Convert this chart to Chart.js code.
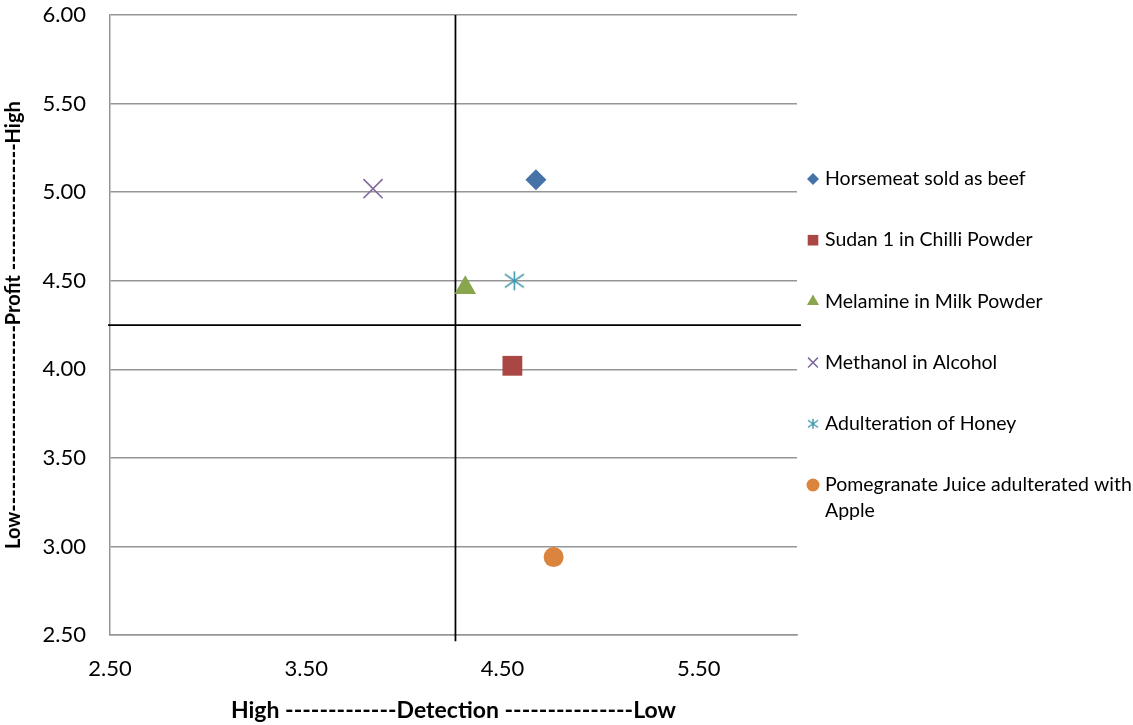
<!DOCTYPE html>
<html>
<head>
<meta charset="utf-8">
<title>Profit vs Detection</title>
<script src="https://cdn.jsdelivr.net/npm/chart.js@4.4.1/dist/chart.umd.min.js"></script>
<style>
  html, body { margin: 0; padding: 0; background: #fff; }
  #wrap { width: 1133px; height: 725px; }
</style>
</head>
<body>
<div id="wrap"><canvas id="chart"></canvas></div>
<script>
// food fraud cases: detection (x) against profit (y)
const caseNames = [
  'Horsemeat sold as beef',
  'Sudan 1 in Chilli Powder',
  'Melamine in Milk Powder',
  'Methanol in Alcohol',
  'Adulteration of Honey',
  'Pomegranate Juice adulterated with Apple'
];
const detection = [4.67, 4.55, 4.31, 3.84, 4.56, 4.76];
const profit = [5.07, 4.02, 4.46, 5.02, 4.50, 2.94];

// quadrant split lines
const detectionSplit = 4.26;
const profitSplit = 4.25;

const xTicks = [2.5, 3.5, 4.5, 5.5];
const yTicks = [2.5, 3.0, 3.5, 4.0, 4.5, 5.0, 5.5, 6.0];

const xTitle = 'High -------------Detection ---------------Low';
const yTitle = 'Low-------------------------Profit -----------------High';

const colors = ['#4572A7', '#AA4643', '#89A54E', '#80699B', '#3D96AE', '#DB843D'];

// excel style asterisk marker (vertical bar + x)
function asterisk(size, color, lw) {
  const c = document.createElement('canvas');
  c.width = c.height = size;
  const g = c.getContext('2d');
  const m = size / 2, r = size / 2 - 1;
  g.strokeStyle = color;
  g.lineWidth = lw;
  g.beginPath();
  g.moveTo(m, m - r); g.lineTo(m, m + r);
  g.moveTo(m - r, m - r * 0.7); g.lineTo(m + r, m + r * 0.7);
  g.moveTo(m + r, m - r * 0.7); g.lineTo(m - r, m + r * 0.7);
  g.stroke();
  return c;
}

const markerStyles = ['rectRot', 'rect', 'triangle', 'crossRot', asterisk(21, colors[4], 1.6), 'circle'];
const markerRadius = [10.5, 14, 12.5, 13.5, 10, 10];
const legendStyles = ['rectRot', 'rect', 'triangle', 'crossRot', asterisk(12, colors[4], 1.4), 'circle'];
const legendRadius = [6, 7.5, 7, 7, 6, 6.5];

// legend drawn at the right, with wrapping like excel
const sideLegend = {
  id: 'sideLegend',
  afterDraw(chart, args, opts) {
    const ctx = chart.ctx;
    ctx.save();
    ctx.font = opts.font;
    ctx.textBaseline = 'middle';
    ctx.textAlign = 'left';
    const textX = opts.x + opts.gap;
    const maxW = chart.width - textX + 2;
    caseNames.forEach((name, i) => {
      const y = opts.top + i * opts.step;
      ctx.fillStyle = colors[i];
      ctx.strokeStyle = colors[i];
      ctx.lineWidth = 1.5;
      Chart.helpers.drawPoint(ctx, {pointStyle: legendStyles[i], radius: legendRadius[i], borderWidth: legendStyles[i] === 'crossRot' ? 1.5 : 0}, opts.x, y);
      // simple word wrap
      const lines = [];
      let cur = '';
      name.split(' ').forEach(w => {
        const test = cur ? cur + ' ' + w : w;
        if (cur && ctx.measureText(test).width > maxW) { lines.push(cur); cur = w; } else { cur = test; }
      });
      lines.push(cur);
      ctx.fillStyle = '#000';
      lines.forEach((l, k) => ctx.fillText(l, textX, y + k * opts.lineHeight));
    });
    ctx.restore();
  }
};

const caseSets = caseNames.map((name, i) => ({
  label: name,
  data: [{x: detection[i], y: profit[i]}],
  backgroundColor: colors[i],
  borderColor: colors[i],
  borderWidth: markerStyles[i] === 'crossRot' ? 1.6 : 0,
  pointStyle: markerStyles[i],
  pointRadius: markerRadius[i],
  pointHoverRadius: markerRadius[i],
  order: 0
}));

const splitLine = (pts) => ({
  label: '',
  data: pts,
  showLine: true,
  borderColor: '#000',
  borderWidth: 1.75,
  pointRadius: 0,
  pointHoverRadius: 0,
  clip: false,
  order: 5
});

new Chart(document.getElementById('chart'), {
  type: 'scatter',
  data: {
    datasets: [
      ...caseSets,
      splitLine([{x: detectionSplit, y: 2.465}, {x: detectionSplit, y: 6.0}]),
      splitLine([{x: 2.49, y: profitSplit}, {x: 6.02, y: profitSplit}])
    ]
  },
  options: {
    responsive: true,
    maintainAspectRatio: false,
    animation: false,
    layout: { padding: { top: 15, right: 336, left: 0, bottom: 0 } },
    plugins: {
      legend: { display: false },
      tooltip: { filter: item => item.dataset.label !== '' },
      sideLegend: { x: 813, gap: 12, top: 179, step: 61.2, lineHeight: 26, font: '19.5px Lato' }
    },
    scales: {
      x: {
        type: 'linear',
        min: 2.5,
        max: 6.0,
        afterBuildTicks: s => { s.ticks = xTicks.map(v => ({value: v})); },
        afterFit: s => { s.height = 90; },
        grid: { display: false, drawTicks: false },
        border: { display: true, color: '#969696', width: 1.5 },
        ticks: { padding: 21, color: '#000', font: { family: 'Lato', size: 22 }, callback: v => v.toFixed(2) },
        title: { display: true, text: xTitle, color: '#000', font: { family: 'Lato', size: 23, weight: 'bold' }, padding: { top: 0, bottom: 1 } }
      },
      y: {
        type: 'linear',
        min: 2.5,
        max: 6.0,
        afterBuildTicks: s => { s.ticks = yTicks.map(v => ({value: v})); },
        afterFit: s => { s.width = 110; s.paddingTop = 0; s.paddingBottom = 0; },
        grid: { color: '#969696', lineWidth: 1.5, drawTicks: false },
        border: { display: true, color: '#969696', width: 1.5 },
        ticks: { padding: 24, color: '#000', font: { family: 'Lato', size: 22 }, callback: v => v.toFixed(2) },
        title: { display: true, text: yTitle, color: '#000', font: { family: 'Lato', size: 20, weight: 'bold' }, padding: { top: 2, bottom: 0 } }
      }
    }
  },
  plugins: [sideLegend]
});
</script>
</body>
</html>
